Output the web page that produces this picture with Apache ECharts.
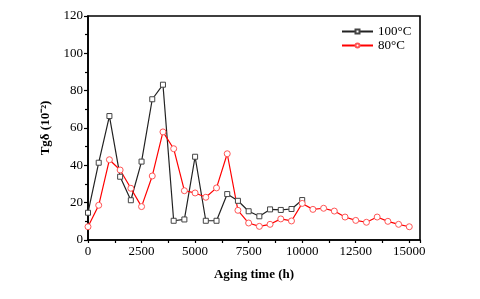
<!DOCTYPE html>
<html><head><meta charset="utf-8">
<script src="https://cdn.jsdelivr.net/npm/echarts@6/dist/echarts.min.js"></script>
<style>html,body{margin:0;padding:0;background:#fff}#c{width:480px;height:299px}</style>
</head><body><div id="c"></div>
<script>
const times100 = [0,500,1000,1500,2000,2500,3000,3500,4000,4500,5000,5500,6000,6500,7000,7500,8000,8500,9000,9500,10000];
const tgd100 = [14.6,41.4,66.4,33.9,21.3,42,75.4,83.2,10.3,11,44.6,10.3,10.3,24.6,21,15.4,12.7,16.4,16.1,16.6,21.4];
const times80 = [0,500,1000,1500,2000,2500,3000,3500,4000,4500,5000,5500,6000,6500,7000,7500,8000,8500,9000,9500,10000,10500,11000,11500,12000,12500,13000,13500,14000,14500,15000];
const tgd80 = [7.1,18.6,43,37.5,27.7,17.9,34.3,57.9,48.9,26.4,25.2,22.9,27.9,46.2,15.9,9.1,7.3,8.4,11.3,10.2,19.6,16.4,17,15.5,12.3,10.5,9.5,12.3,10,8.4,7.1];
const seriesNames = ['100°C','80°C'];
const xTitle = 'Aging time (h)';
const yTitle = 'Tgδ (10⁻²)';

const font = 'Liberation Serif';
const chart = echarts.init(document.getElementById('c'));
const axisLine = {show:true, lineStyle:{color:'#000', width:1.6}};
chart.setOption({
  animation:false,
  backgroundColor:'#fff',
  textStyle:{fontFamily:font},
  grid:{left:88, top:16, right:60, bottom:59, show:true, borderColor:'#000', borderWidth:1.6},
  legend:{
    orient:'vertical', left:336, top:20, itemWidth:31, itemHeight:5, itemGap:1,
    textStyle:{fontFamily:font, fontSize:13, color:'#000'},
    data:seriesNames
  },
  xAxis:{
    type:'value', min:0, max:15500, interval:2500,
    name:xTitle, nameLocation:'middle', nameGap:28,
    nameTextStyle:{fontFamily:font, fontSize:13, fontWeight:'bold', color:'#000'},
    axisLine:axisLine,
    axisTick:{show:true, inside:false, length:3, lineStyle:{color:'#000', width:1.2}},
    minorTick:{show:true, splitNumber:2, length:3, lineStyle:{color:'#000', width:1.2}},
    splitLine:{show:false},
    axisLabel:{fontFamily:font, fontSize:13, color:'#000', margin:5, showMaxLabel:false,
      formatter:v => v>15000 ? '' : String(v)}
  },
  yAxis:{
    type:'value', min:0, max:120, interval:20,
    name:yTitle, nameLocation:'middle', nameGap:35,
    nameTextStyle:{fontFamily:font, fontSize:13, fontWeight:'bold', color:'#000'},
    axisLine:axisLine,
    axisTick:{show:true, inside:false, length:4, lineStyle:{color:'#000', width:1.2}},
    minorTick:{show:true, splitNumber:2, length:3, lineStyle:{color:'#000', width:1.2}},
    splitLine:{show:false},
    axisLabel:{fontFamily:font, fontSize:13, color:'#000', margin:5}
  },
  series:[
    {name:seriesNames[0], type:'line', data:times100.map((t,i)=>[t,tgd100[i]]),
     symbol:'rect', symbolSize:5, color:'#222',
     lineStyle:{color:'#222', width:1.2},
     itemStyle:{color:'#fff', borderColor:'#444', borderWidth:1}},
    {name:seriesNames[1], type:'line', data:times80.map((t,i)=>[t,tgd80[i]]),
     symbol:'circle', symbolSize:6, color:'#f00',
     lineStyle:{color:'#f00', width:1.2},
     itemStyle:{color:'#fff', borderColor:'#f55', borderWidth:1}}
  ]
});
</script></body></html>
